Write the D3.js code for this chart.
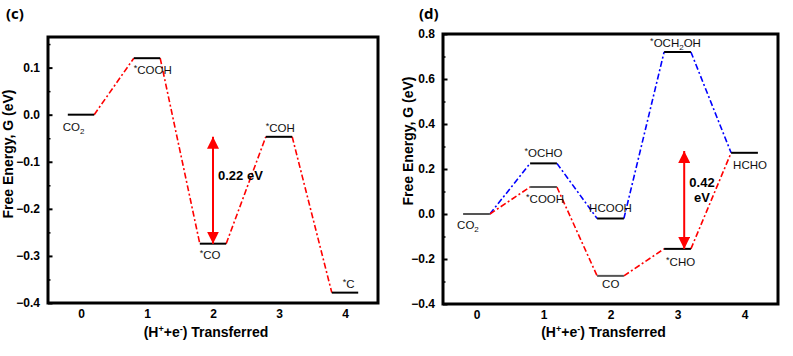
<!DOCTYPE html>
<html>
<head>
<meta charset="utf-8">
<script src="https://cdn.jsdelivr.net/npm/d3@7"></script>
<style>
  body { margin: 0; background: #fff; }
  svg { display: block; font-family: "Liberation Sans", Arial, sans-serif; }
</style>
</head>
<body>
<div id="chart"></div>
<script>
// ---- data ----
const xTicks = [0, 1, 2, 3, 4];

// panel (c)
const cSteps = [0, 1, 2, 3, 4];
const cEnergy = [0, 0.12, -0.274, -0.047, -0.378];
const cSpecies = ["CO2", "*COOH", "*CO", "*COH", "*C"];
const cYTicks = [-0.4, -0.3, -0.2, -0.1, 0.0, 0.1];
const cBarrier = { step: 2, from: -0.274, to: -0.047, label: ["0.22 eV"] };

// panel (d)
const dSteps = [0, 1, 2, 3, 4];
const dBlueEnergy = [0, 0.225, -0.02, 0.72, 0.272];
const dBlueSpecies = ["CO2", "*OCHO", "HCOOH", "*OCH2OH", "HCHO"];
const dRedEnergy = [0, 0.12, -0.275, -0.155, 0.272];
const dRedSpecies = ["CO2", "*COOH", "CO", "*CHO", "HCHO"];
const dYTicks = [-0.4, -0.2, 0.0, 0.2, 0.4, 0.6, 0.8];
const dBarrier = { step: 3.1, from: -0.155, to: 0.28, label: ["0.42", "eV"] };

// ---- layout ----
const width = 793, height = 356;
const halfW = 0.2;
const red = "#ff0000", blue = "#0000ff";
const dash = "6,2.5,2,2.5";

// label placement per species: [anchor, dx, dy]
const cLabelPos = {
  "CO2": ["start", -5, 16], "*COOH": ["start", 0, 16], "*CO": ["start", 0, 15.5],
  "*COH": ["start", 0, -5], "*C": ["start", 11, -5]
};
const dLabelPos = {
  "CO2": ["start", -6, 15], "*OCHO": ["middle", 0, -6], "*COOH": ["start", -4, 16],
  "HCOOH": ["middle", 0, -7], "CO": ["start", 5, 12], "*OCH2OH": ["middle", -2, -5],
  "*CHO": ["start", 2, 17], "HCHO": ["start", 2, 16]
};
const grayLevels = new Set(["CO2", "*COOH", "CO"]);

const svg = d3.create("svg")
  .attr("width", width)
  .attr("height", height)
  .attr("viewBox", [0, 0, width, height]);

svg.append("defs").append("marker")
  .attr("id", "head")
  .attr("viewBox", "0 0 12 12")
  .attr("refX", 12).attr("refY", 6)
  .attr("markerWidth", 12).attr("markerHeight", 12)
  .attr("markerUnits", "userSpaceOnUse")
  .attr("orient", "auto-start-reverse")
  .append("path")
  .attr("d", "M0,0 L12,6 L0,12 Z")
  .attr("fill", red);

function speciesText(sel, name) {
  // asterisk raised, digits subscript
  const parts = name.match(/\*|\d|[^*\d]+/g);
  let shift = 0;
  parts.forEach((p) => {
    let dy = 0, size = null;
    if (p === "*") { dy = -3; size = "9px"; }
    else if (/\d/.test(p)) { dy = 3; size = "8px"; }
    const t = sel.append("tspan").attr("dy", dy - shift).text(p);
    if (size) t.attr("font-size", size);
    shift = dy;
  });
}

function panel(opts) {
  const { left, right, top, bottom, yDomain, yTicks, minorStep } = opts;
  const x = d3.scaleLinear().domain([-0.5, 4.5]).range([left, right]);
  const y = d3.scaleLinear().domain(yDomain).range([bottom, top]);
  const g = svg.append("g");

  // minor ticks (inward)
  const minor = d3.range(yDomain[0], yDomain[1] + 1e-9, minorStep)
    .filter((v) => !yTicks.some((t) => Math.abs(t - v) < 1e-6));
  g.append("g")
    .attr("transform", `translate(${left},0)`)
    .call(d3.axisRight(y).tickValues(minor).tickSize(2.5).tickFormat(""))
    .call((a) => a.select(".domain").remove())
    .call((a) => a.selectAll("line").attr("stroke-width", 1.5));

  // major ticks + labels
  g.append("g")
    .attr("transform", `translate(${left},0)`)
    .call(d3.axisLeft(y).tickValues(yTicks).tickSizeInner(-4.5).tickSizeOuter(0)
      .tickPadding(8).tickFormat((d) => d3.format(".1f")(d).replace("-", "\u2212")))
    .call((a) => a.select(".domain").remove())
    .call((a) => a.selectAll("line").attr("stroke-width", 2))
    .call((a) => a.selectAll("text").attr("font-size", 12).attr("font-weight", "bold")
      .attr("font-family", "Liberation Sans, Arial, sans-serif").attr("fill", "#000"));

  g.append("g")
    .attr("transform", `translate(0,${bottom})`)
    .call(d3.axisBottom(x).tickValues(xTicks).tickSize(0).tickPadding(6).tickFormat(d3.format("d")))
    .call((a) => a.select(".domain").remove())
    .call((a) => a.selectAll("text").attr("font-size", 12).attr("font-weight", "bold")
      .attr("font-family", "Liberation Sans, Arial, sans-serif").attr("fill", "#000"));

  // frame
  g.append("rect")
    .attr("x", left).attr("y", top)
    .attr("width", right - left).attr("height", bottom - top)
    .attr("fill", "none").attr("stroke", "#000").attr("stroke-width", 3);

  // axis titles
  g.append("text")
    .attr("transform", `translate(${opts.yTitleX},${opts.yTitleY}) rotate(-90)`)
    .attr("text-anchor", "middle")
    .attr("font-size", 14).attr("font-weight", "bold")
    .text("Free Energy, G (eV)");

  const xt = g.append("text")
    .attr("x", (left + right) / 2 + opts.xTitleDx).attr("y", 337)
    .attr("text-anchor", "middle")
    .attr("font-size", 14).attr("font-weight", "bold");
  xt.append("tspan").text("(H");
  xt.append("tspan").attr("dy", -5).attr("font-size", 9).text("+");
  xt.append("tspan").attr("dy", 5).text("+e");
  xt.append("tspan").attr("dy", -5).attr("font-size", 9).text("-");
  xt.append("tspan").attr("dy", 5).text(") Transferred");

  svg.append("text")
    .attr("x", opts.tagX).attr("y", 19)
    .attr("font-size", 15).attr("font-weight", "bold")
    .attr("font-family", "Open Sans, sans-serif")
    .text(opts.tag);

  return { g, x, y };
}

function pathway(p, steps, energy, color) {
  const segs = d3.pairs(d3.zip(steps, energy));
  p.g.append("g").selectAll("line")
    .data(segs)
    .join("line")
    .attr("x1", (d) => p.x(d[0][0] + halfW)).attr("y1", (d) => p.y(d[0][1]))
    .attr("x2", (d) => p.x(d[1][0] - halfW)).attr("y2", (d) => p.y(d[1][1]))
    .attr("stroke", color).attr("stroke-width", 1.6)
    .attr("stroke-dasharray", dash);
}

function levels(p, steps, energy, species, labelPos, grayed) {
  const data = d3.zip(steps, energy, species);
  p.g.append("g").selectAll("line")
    .data(data)
    .join("line")
    .attr("x1", (d) => p.x(d[0] - halfW)).attr("x2", (d) => p.x(d[0] + halfW))
    .attr("y1", (d) => p.y(d[1])).attr("y2", (d) => p.y(d[1]))
    .attr("stroke", (d) => (grayed && grayed.has(d[2]) ? "#555" : "#000"))
    .attr("stroke-width", 2);
  p.g.append("g").selectAll("text")
    .data(data)
    .join("text")
    .each(function (d) {
      const [anchor, dx, dy] = labelPos[d[2]];
      const xPos = anchor === "middle" ? p.x(d[0]) : p.x(d[0] - halfW);
      const t = d3.select(this)
        .attr("x", xPos + dx).attr("y", p.y(d[1]) + dy)
        .attr("text-anchor", anchor)
        .attr("font-size", 11.5).attr("fill", "#111");
      speciesText(t, d[2]);
    });
}

function barrier(p, b, labelX, labelY) {
  p.g.append("line")
    .attr("x1", p.x(b.step)).attr("x2", p.x(b.step))
    .attr("y1", p.y(b.from)).attr("y2", p.y(b.to))
    .attr("stroke", red).attr("stroke-width", 2)
    .attr("marker-start", "url(#head)").attr("marker-end", "url(#head)");
  p.g.append("g").selectAll("text")
    .data(b.label)
    .join("text")
    .attr("x", labelX).attr("y", (d, i) => labelY + i * 15)
    .attr("text-anchor", b.label.length > 1 ? "middle" : "start")
    .attr("font-size", 13).attr("font-weight", "bold")
    .text((d) => d);
}

// ---- panel (c) ----
const pc = panel({
  left: 48, right: 378, top: 37, bottom: 303,
  yDomain: [-0.4, 0.165], yTicks: cYTicks, minorStep: 0.05,
  yTitleX: 13, yTitleY: 154, xTitleDx: -7, tag: "(c)", tagX: 6
});
pathway(pc, cSteps, cEnergy, red);
levels(pc, cSteps, cEnergy, cSpecies, cLabelPos, null);
barrier(pc, cBarrier, 218, 180);

// ---- panel (d) ----
const pd = panel({
  left: 443, right: 778, top: 34, bottom: 304,
  yDomain: [-0.4, 0.8], yTicks: dYTicks, minorStep: 0.1,
  yTitleX: 413, yTitleY: 141, xTitleDx: -7, tag: "(d)", tagX: 419
});
pathway(pd, dSteps, dBlueEnergy, blue);
pathway(pd, dSteps, dRedEnergy, red);
levels(pd, dSteps, dRedEnergy, dRedSpecies, dLabelPos, grayLevels);
levels(pd, dSteps.slice(1, 4), dBlueEnergy.slice(1, 4), dBlueSpecies.slice(1, 4), dLabelPos, null);
barrier(pd, dBarrier, 702, 187);

document.getElementById("chart").append(svg.node());
</script>
</body>
</html>
